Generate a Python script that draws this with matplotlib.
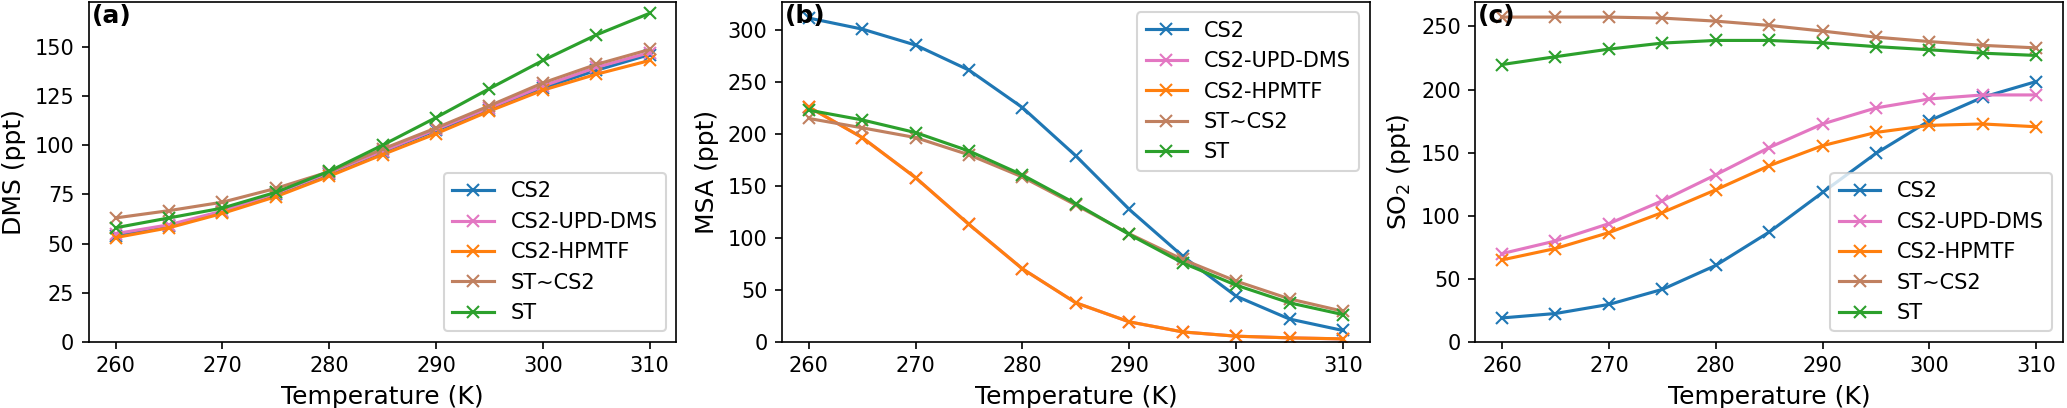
import matplotlib
matplotlib.use('Agg')
import numpy as np
import matplotlib.pyplot as plt

temperature = [260, 265, 270, 275, 280, 285, 290, 295, 300, 305, 310]
labels = ['CS2', 'CS2-UPD-DMS', 'CS2-HPMTF', 'ST~CS2', 'ST']
colors = ['tab:blue', 'tab:pink', 'tab:orange', '#c08060', 'tab:green']

# (a) DMS
dms_cs2 = [54, 59, 66, 75, 85.5, 96.5, 107.5, 118, 129, 138, 146]
dms_upd = [55, 59.5, 66.5, 75.5, 86, 97, 108, 119, 130, 139.5, 147]
dms_hpmtf = [53, 58, 65.3, 73.8, 84.2, 95.2, 105.8, 117.3, 127.9, 136, 143]
dms_stcs2 = [63, 66.7, 71, 78, 86.5, 98, 108.7, 120, 131.6, 141, 148.6]
dms_st = [58, 63, 68, 76, 86.7, 100, 114, 128.7, 143, 156, 167]

# (b) MSA
msa_cs2 = [311.6, 301, 285.6, 261.5, 225.5, 179, 127.5, 82.5, 44, 22, 11]
msa_upd = [226, 196.6, 158, 113, 70.3, 37.6, 19.3, 9.6, 5.5, 3.9, 2.9]
msa_hpmtf = [226, 196.6, 158, 113, 70.3, 37.6, 19.3, 9.6, 5.5, 3.9, 2.9]
msa_stcs2 = [215, 206, 196.6, 180, 158.7, 131.7, 104, 79.3, 58.5, 41.4, 29.5]
msa_st = [223, 213.6, 201.4, 183.7, 160.6, 133, 103.4, 76, 54.6, 37.6, 26.3]

# (c) SO2
so2_cs2 = [19, 22.5, 29.7, 41.6, 60.6, 87, 118.4, 149.4, 175.3, 193.9, 206.3]
so2_upd = [70, 80, 93.7, 111.8, 132.4, 154, 172.7, 185.4, 192.5, 195.7, 195.7]
so2_hpmtf = [65, 74, 86.6, 102.5, 120.5, 139.6, 155.5, 166, 171.6, 172.7, 170.5]
so2_stcs2 = [257.4, 257.4, 257.4, 256.6, 254.2, 250.8, 246.3, 241.5, 238, 235, 233]
so2_st = [219.8, 226, 232, 236.8, 238.9, 238.9, 237, 234, 231.5, 228.8, 227]

panels = [
    ('(a)', 'DMS (ppt)', [dms_cs2, dms_upd, dms_hpmtf, dms_stcs2, dms_st], 'lower right'),
    ('(b)', 'MSA (ppt)', [msa_cs2, msa_upd, msa_hpmtf, msa_stcs2, msa_st], 'upper right'),
    ('(c)', 'SO$_2$ (ppt)', [so2_cs2, so2_upd, so2_hpmtf, so2_stcs2, so2_st], 'lower right'),
]

fig, axes = plt.subplots(1, 3, figsize=(2067 / 150, 408 / 150), dpi=150)

for ax, (tag, ylabel, series, loc) in zip(axes, panels):
    for vals, lab, col in zip(series, labels, colors):
        ax.plot(temperature, vals, marker='x', color=col, label=lab)
    ax.set_ylim(bottom=0)
    ax.set_xlabel('Temperature (K)', fontsize=12)
    ax.set_ylabel(ylabel, fontsize=12)
    ax.text(0.005, 0.995, tag, transform=ax.transAxes, fontsize=12,
            fontweight='bold', va='top', ha='left')
    ax.legend(loc=loc, fontsize=10)

fig.subplots_adjust(left=0.043, right=0.998, bottom=0.162, top=0.995, wspace=0.18)
fig.savefig('out.png', dpi=150)
